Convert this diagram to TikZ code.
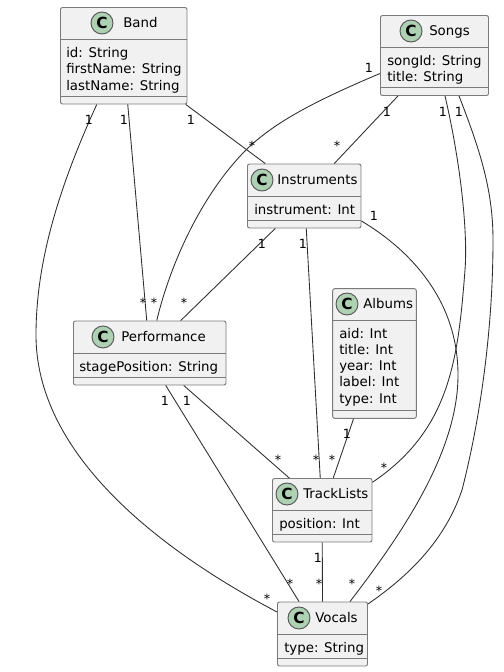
\documentclass[tikz,border=0pt]{standalone}
\usepackage{fontspec}
\setmainfont{DejaVu Sans}
\usetikzlibrary{fit}
\definecolor{classfill}{HTML}{F1F1F1}
\definecolor{classline}{HTML}{7A7A7A}
\definecolor{iconfill}{HTML}{ADD1B2}
\definecolor{linkline}{HTML}{2E2E2E}
\tikzset{
	classbox/.style={draw=classline,fill=classfill,line width=0.7pt,rounded corners=1.5pt,inner sep=0},
	classline/.style={draw=classline,line width=0.7pt},
	classicon/.style={circle,draw=classline!70!black,fill=iconfill,line width=0.7pt,minimum size=16.5pt,inner sep=0,font=\fontsize{11.5}{11.5}\selectfont\bfseries},
	classname/.style={anchor=base west,inner sep=0,yshift=-3.6pt,font=\fontsize{10}{12}\selectfont},
	attr/.style={anchor=base west,inner sep=0,font=\fontsize{10}{12}\selectfont},
	mult/.style={inner sep=0,font=\fontsize{9.5}{11}\selectfont},
	link/.style={draw=linkline,line width=0.65pt},
}
\begin{document}
\begin{tikzpicture}[x=0.75pt,y=-0.75pt]
	\useasboundingbox (0,0) rectangle (504,672);
	% class boxes: name, corners, two separators
	\foreach \name/\xa/\ya/\xb/\yb/\sa/\sb in {
		band/60.5/7.5/187/104/39/96,
		songs/380.5/15.5/488.5/95.5/47/87.5,
		instruments/247.5/164/361/228/196.5/220,
		performance/73.5/321/226/385/353/377,
		albums/332.7/288.7/416.3/418.3/320.3/410.3,
		tracklists/272.5/478.5/372/542/510.5/534,
		vocals/277.5/602/367.5/666/634/658}
	{
		\node[classbox,fit={(\xa,\ya) (\xb,\yb)}] (\name) {};
		\draw[classline] (\xa,\sa) -- (\xb,\sa);
		\draw[classline] (\xa,\sb) -- (\xb,\sb);
	}
	% headers
	\foreach \name/\ix/\iy/\nx/\txt in {
		band/102/23/123/Band,
		songs/411/31/429/Songs,
		instruments/262/180/277/Instruments,
		performance/103/337/121/Performance,
		albums/347/304/363/Albums,
		tracklists/287/494/303/TrackLists,
		vocals/299/618/315/Vocals}
	{
		\node[classicon] (\name icon) at (\ix,\iy) {C};
		\node[classname] (\name title) at (\nx,\iy) {\txt};
	}
	% attributes
	\node[attr] (bandid) at (66,57.5) {id: String};
	\node[attr] (bandfirst) at (66,73.5) {firstName: String};
	\node[attr] (bandlast) at (66,90) {lastName: String};
	\node[attr] (songsid) at (387,65.5) {songId: String};
	\node[attr] (songstitle) at (387,81.5) {title: String};
	\node[attr] (instrumentsattr) at (254,214) {instrument: Int};
	\node[attr] (performanceattr) at (79,371) {stagePosition: String};
	\node[attr] (albumsaid) at (339,338) {aid: Int};
	\node[attr] (albumstitle) at (339,354) {title: Int};
	\node[attr] (albumsyear) at (339,370.5) {year: Int};
	\node[attr] (albumslabel) at (339,386.5) {label: Int};
	\node[attr] (albumstype) at (339,403) {type: Int};
	\node[attr] (tracklistsattr) at (279,528) {position: Int};
	\node[attr] (vocalsattr) at (284,652) {type: String};
	% connectors
	\draw[link] ([shift={(4,0)}]band.south) -- ([shift={(-3,0)}]performance.north);
	\draw[link] ([shift={(62,0)}]band.south) -- ([shift={(-39,0)}]instruments.north);
	\draw[link] ([shift={(-27,0)}]band.south) .. controls (60,185) and (36,260) .. (36,335)
		.. controls (36,450) and (150,545) .. ([shift={(0,-22)}]vocals.west);
	\draw[link] ([shift={(0,18)}]songs.west) .. controls (310,103) and (270,125) .. (243,153)
		.. controls (200,198) and (170,265) .. ([shift={(7,0)}]performance.north);
	\draw[link] ([shift={(-36.5,0)}]songs.south) -- ([shift={(30,0)}]instruments.north);
	\draw[link] ([shift={(10.5,0)}]songs.south) .. controls (460,160) and (468,230) .. (465,270)
		.. controls (458,360) and (450,430) .. ([shift={(0,-28)}]tracklists.east);
	\draw[link] ([shift={(24.5,0)}]songs.south) .. controls (480,150) and (493,190) .. (493,240)
		.. controls (493,330) and (480,420) .. (462,490)
		.. controls (445,540) and (410,575) .. ([shift={(0,-30)}]vocals.east);
	\draw[link] ([shift={(-29,0)}]instruments.south) -- ([shift={(31,0)}]performance.north);
	\draw[link] ([shift={(2,0)}]instruments.south) -- ([shift={(-2,0)}]tracklists.north);
	\draw[link] ([shift={(0,25)}]instruments.east) .. controls (410,250) and (458,300) .. (458,375)
		.. controls (458,450) and (405,530) .. ([shift={(27.5,0)}]vocals.north);
	\draw[link] ([shift={(-21,0)}]albums.south) -- ([shift={(11,0)}]tracklists.north);
	\draw[link] ([shift={(34,0)}]performance.south) -- ([shift={(-33,0)}]tracklists.north);
	\draw[link] ([shift={(16,0)}]performance.south) -- ([shift={(-23.5,0)}]vocals.north);
	\draw[link] (tracklists.south) -- (vocals.north);
	% multiplicities
	\foreach \xm/\ym/\txt [count=\n] in {
		89/120/1, 124/120/1, 191/120/1, 252/146/*,
		369/68/1, 387/112/1, 337/146/*, 443/112/1, 459/112/1,
		374/216/1, 262/244/1, 303/244/1,
		143/303/*, 154/303/*, 184/303/*,
		165/401/1, 187/401/1, 347/434/1,
		278/460/*, 316/460/*, 332/460/*, 384/468/*,
		318/558/1, 290/584/*, 319/584/*, 352/584/*, 379/591/*, 267/599/*}
	{
		\node[mult] (mult\n) at (\xm,\ym) {\txt};
	}
\end{tikzpicture}
\end{document}
